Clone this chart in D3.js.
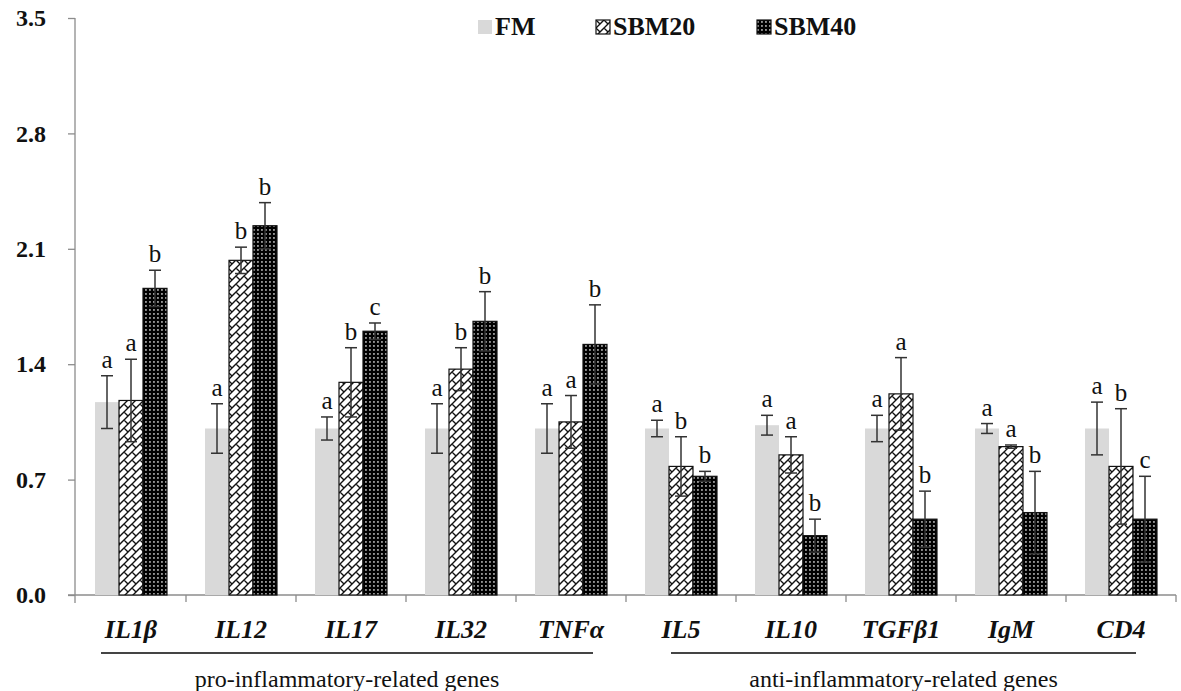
<!DOCTYPE html>
<html>
<head>
<meta charset="utf-8">
<script src="https://cdn.jsdelivr.net/npm/d3@7"></script>
<style>
  html, body { margin: 0; padding: 0; background: #ffffff; }
  svg { display: block; }
  svg text { font-family: "Liberation Serif", "Tinos", "Times New Roman", "DejaVu Serif", serif; }
</style>
</head>
<body>
<svg id="chart" width="1181" height="691"></svg>
<script>
// ---------------- data ----------------
const categories = ["IL1β", "IL12", "IL17", "IL32", "TNFα", "IL5", "IL10", "TGFβ1", "IgM", "CD4"];
const seriesNames = ["FM", "SBM20", "SBM40"];
const fmValues    = [1.17, 1.01, 1.01, 1.01, 1.01, 1.01, 1.03, 1.01, 1.01, 1.01];
const fmErrors    = [0.16, 0.15, 0.07, 0.15, 0.15, 0.05, 0.06, 0.08, 0.03, 0.16];
const sbm20Values = [1.18, 2.03, 1.29, 1.37, 1.05, 0.78, 0.85, 1.22, 0.90, 0.78];
const sbm20Errors = [0.25, 0.08, 0.21, 0.13, 0.16, 0.18, 0.11, 0.22, 0.01, 0.35];
const sbm40Values = [1.86, 2.24, 1.60, 1.66, 1.52, 0.72, 0.36, 0.46, 0.50, 0.46];
const sbm40Errors = [0.11, 0.14, 0.05, 0.18, 0.24, 0.03, 0.10, 0.17, 0.25, 0.26];
const fmLetters    = ["a", "a", "a", "a", "a", "a", "a", "a", "a", "a"];
const sbm20Letters = ["a", "b", "b", "b", "a", "b", "a", "a", "a", "b"];
const sbm40Letters = ["b", "b", "c", "b", "b", "b", "b", "b", "b", "c"];
const yTicks = [0.0, 0.7, 1.4, 2.1, 2.8, 3.5];
const groupLabels = ["pro-inflammatory-related genes", "anti-inflammatory-related genes"];
const groupMembers = [["IL1β", "IL12", "IL17", "IL32", "TNFα"], ["IL5", "IL10", "TGFβ1", "IgM", "CD4"]];

const values = [fmValues, sbm20Values, sbm40Values];
const errors = [fmErrors, sbm20Errors, sbm40Errors];
const letters = [fmLetters, sbm20Letters, sbm40Letters];

// ---------------- setup ----------------
const svg = d3.select("#chart");
const serif = '"Liberation Serif", "Tinos", "Times New Roman", "DejaVu Serif", serif';

const defs = svg.append("defs");
const brick = defs.append("pattern").attr("id", "brick")
  .attr("patternUnits", "userSpaceOnUse").attr("width", 8).attr("height", 8);
brick.append("rect").attr("width", 8).attr("height", 8).attr("fill", "#fff");
brick.append("path").attr("d", "M-1,9 L9,-1 M4,4 L8,8 M-1,1 L1,-1 M7,9 L9,7")
  .attr("stroke", "#111").attr("stroke-width", 1.4).attr("fill", "none");

const dots = defs.append("pattern").attr("id", "dots")
  .attr("patternUnits", "userSpaceOnUse").attr("width", 4).attr("height", 4);
dots.append("rect").attr("width", 4).attr("height", 4).attr("fill", "#000");
dots.append("rect").attr("x", 1.2).attr("y", 1.2).attr("width", 1.5).attr("height", 1.5).attr("fill", "#e8e8e8");

const fills = ["#d9d9d9", "url(#brick)", "url(#dots)"];
const strokes = ["none", "#111", "#111"];

const x0 = d3.scaleBand().domain(categories).range([76, 1176]).paddingInner(0).paddingOuter(0);
const groupW = 72;
const x1 = d3.scaleBand().domain(seriesNames).range([0, groupW]).padding(0);
const y = d3.scaleLinear().domain([0, 3.5]).range([595, 18]);

const axisColor = "#8c8c8c";

// ---------------- y axis ----------------
const yAxis = svg.append("g").attr("transform", "translate(75,0)")
  .call(d3.axisLeft(y).tickValues(yTicks).tickFormat(d3.format(".1f")).tickSize(7).tickSizeOuter(0));
yAxis.attr("font-family", null).attr("font-size", null);
yAxis.select(".domain").remove();
yAxis.selectAll(".tick line").attr("stroke", axisColor).attr("stroke-width", 1.3);
yAxis.selectAll(".tick text")
  .attr("x", -29)
  .style("font-family", serif).style("font-size", "24px").style("font-weight", "bold").attr("fill", "#111");
svg.append("line").attr("x1", 75).attr("x2", 75).attr("y1", y(3.5)).attr("y2", 603)
  .attr("stroke", axisColor).attr("stroke-width", 1.3);

// ---------------- x axis ----------------
svg.append("line").attr("x1", 68).attr("x2", x0.range()[1]).attr("y1", y(0)).attr("y2", y(0))
  .attr("stroke", axisColor).attr("stroke-width", 1.3);
svg.append("g").selectAll("line").data(categories).join("line")
  .attr("x1", d => x0(d) + x0.bandwidth()).attr("x2", d => x0(d) + x0.bandwidth())
  .attr("y1", y(0)).attr("y2", 602)
  .attr("stroke", axisColor).attr("stroke-width", 1.3);

svg.append("g").selectAll("text").data(categories).join("text")
  .attr("x", d => x0(d) + x0.bandwidth() / 2)
  .attr("y", 638)
  .attr("text-anchor", "middle")
  .style("font-family", serif).style("font-size", "26px").style("font-weight", "bold").style("font-style", "italic")
  .attr("fill", "#111")
  .text(d => d);

// ---------------- bars ----------------
const flat = [];
categories.forEach((c, i) => {
  seriesNames.forEach((s, j) => {
    flat.push({ cat: c, ser: s, si: j, v: values[j][i], e: errors[j][i], l: letters[j][i] });
  });
});
const offset = (x0.bandwidth() - groupW) / 2;
const bx = d => x0(d.cat) + offset + x1(d.ser);

svg.append("g").selectAll("rect").data(flat).join("rect")
  .attr("x", bx)
  .attr("y", d => y(d.v))
  .attr("width", x1.bandwidth())
  .attr("height", d => y(0) - y(d.v))
  .attr("fill", d => fills[d.si])
  .attr("stroke", d => strokes[d.si])
  .attr("stroke-width", 1.2);

// error bars
const eb = svg.append("g").attr("stroke", "#333").attr("stroke-width", 1.5);
const cap = 6;
flat.forEach(d => {
  const cx = bx(d) + x1.bandwidth() / 2;
  const top = y(d.v + d.e), bot = y(d.v - d.e);
  eb.append("line").attr("x1", cx).attr("x2", cx).attr("y1", top).attr("y2", bot);
  eb.append("line").attr("x1", cx - cap).attr("x2", cx + cap).attr("y1", top).attr("y2", top);
  eb.append("line").attr("x1", cx - cap).attr("x2", cx + cap).attr("y1", bot).attr("y2", bot);
});

// significance letters
svg.append("g").selectAll("text").data(flat).join("text")
  .attr("x", d => bx(d) + x1.bandwidth() / 2)
  .attr("y", d => y(d.v + d.e) - 8)
  .attr("text-anchor", "middle")
  .style("font-family", serif).style("font-size", "25px").attr("fill", "#111")
  .text(d => d.l);

// ---------------- group labels ----------------
const groupLineX = [[101, 593], [671, 1136]];
groupMembers.forEach((members, gi) => {
  svg.append("line")
    .attr("x1", groupLineX[gi][0]).attr("x2", groupLineX[gi][1])
    .attr("y1", 653).attr("y2", 653)
    .attr("stroke", "#444").attr("stroke-width", 2);
  svg.append("text")
    .attr("x", (groupLineX[gi][0] + groupLineX[gi][1]) / 2)
    .attr("y", 687)
    .attr("text-anchor", "middle")
    .style("font-family", serif).style("font-size", "24px").attr("fill", "#111")
    .text(groupLabels[gi]);
});

// ---------------- legend ----------------
const legendX = [478, 596, 757];
const lg = svg.append("g");
seriesNames.forEach((s, i) => {
  lg.append("rect").attr("x", legendX[i]).attr("y", 20).attr("width", 14).attr("height", 14)
    .attr("fill", fills[i]).attr("stroke", strokes[i]).attr("stroke-width", 1.2);
  lg.append("text").attr("x", legendX[i] + 17).attr("y", 35)
    .style("font-family", serif).style("font-size", "26px").style("font-weight", "bold").attr("fill", "#111")
    .text(s);
});
</script>
</body>
</html>
